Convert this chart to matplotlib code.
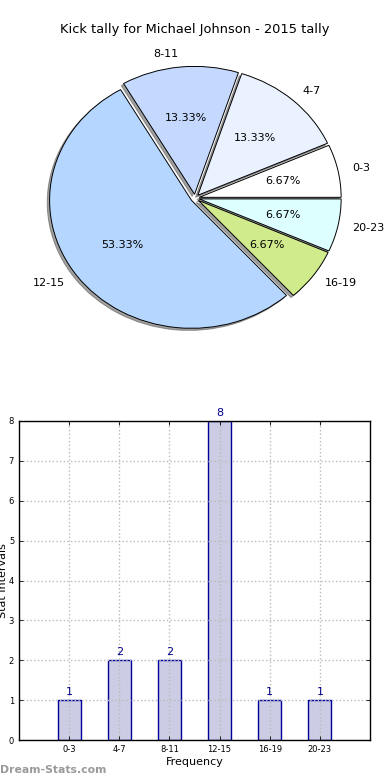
import matplotlib
matplotlib.use("Agg")
import matplotlib.pyplot as plt
import numpy as np

# data
labels = ["0-3", "4-7", "8-11", "12-15", "16-19", "20-23"]
counts = [1, 2, 2, 8, 1, 1]
pie_colors = ["#FFFFFF", "#EBF2FF", "#C5D9FF", "#B5D6FF", "#D0EB8B", "#DDFFFF"]
title = "Kick tally for Michael Johnson - 2015 tally"

fig = plt.figure(figsize=(3.9, 7.8), dpi=100)

# --- pie (old style, not forced round) ---
ax1 = fig.add_axes([0.045, 0.541, 0.91, 0.41])
wedges, texts, autotexts = ax1.pie(
    counts, labels=labels, colors=pie_colors, explode=[0.03] * len(counts),
    autopct="%1.2f%%", pctdistance=0.6, labeldistance=1.1, startangle=0,
    shadow=dict(ox=-0.012, oy=-0.012, color="#444444"),
    wedgeprops=dict(edgecolor="black", linewidth=0.7),
    textprops=dict(fontsize=8))
ax1.set_aspect("auto")
ax1.set_xlim(-1.25, 1.25)
ax1.set_ylim(-1.25, 1.25)
fig.text(0.5, 1 - 30 / 780, title, ha="center", va="center", fontsize=9.4)

# --- bar chart ---
ax2 = fig.add_axes([19 / 390, 40 / 780, 351 / 390, 319 / 780])
x = np.arange(1, len(labels) + 1)
ax2.bar(x, counts, width=0.46, color="#CCCCE5", edgecolor="#000099", linewidth=1.0)
for xi, c in zip(x, counts):
    ax2.text(xi, c + 0.08, str(c), ha="center", va="bottom", fontsize=8, color="#000088")

ax2.set_xlim(0, 7)
ax2.set_ylim(0, 8)
ax2.set_xticks(x)
ax2.set_xticklabels(labels)
ax2.set_yticks(range(0, 9))
ax2.tick_params(direction="in", top=True, right=True, labelsize=6, length=3, width=0.6)
ax2.set_axisbelow(False)
ax2.grid(True, linestyle=":", color="#bbbbbb", linewidth=1.0)
ax2.set_xlabel("Frequency", fontsize=8, labelpad=2)
ax2.set_ylabel("Stat Intervals", fontsize=8)
ax2.yaxis.set_label_coords(-0.03, 0.5)
for s in ax2.spines.values():
    s.set_linewidth(1.0)
    s.set_zorder(5)

fig.text(0.0, 1 - 770 / 780, "Dream-Stats.com", ha="left", va="center",
         fontsize=7.8, fontweight="bold", color="#9a9a9a")

fig.savefig("out.png", dpi=100)
